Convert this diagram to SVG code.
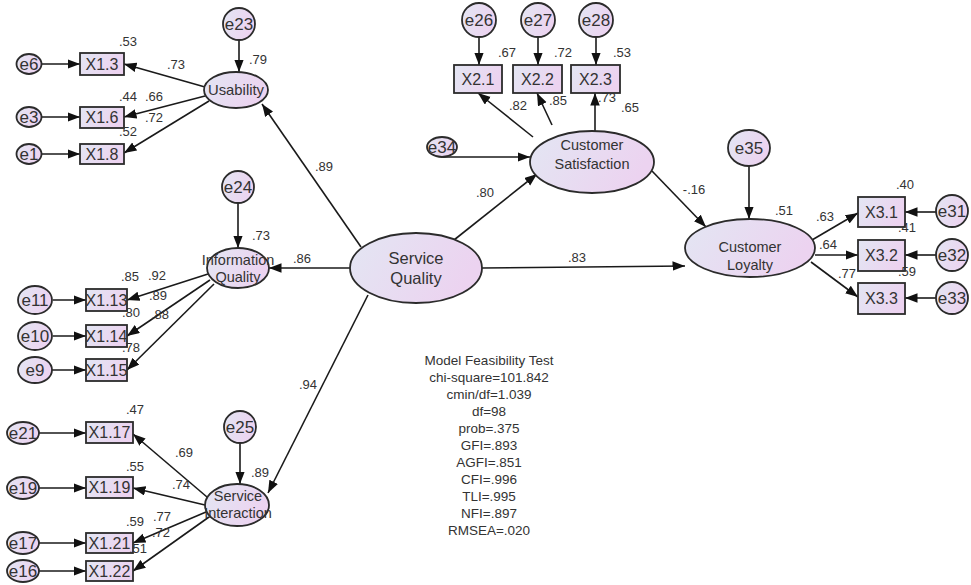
<svg xmlns="http://www.w3.org/2000/svg" width="971" height="585" viewBox="0 0 971 585">
  <defs>
    <linearGradient id="fillGrad" x1="0" y1="0" x2="1" y2="0.3">
      <stop offset="0" stop-color="#e3e6f3"/>
      <stop offset="1" stop-color="#ecd3f0"/>
    </linearGradient>
    <marker id="arrow" markerWidth="13" markerHeight="10" refX="12.5" refY="4.75" orient="auto" markerUnits="userSpaceOnUse">
      <path d="M0,0 L12.5,4.75 L0,9.5 z" fill="#111"/>
    </marker>
    <style>
      .shape { fill: url(#fillGrad); stroke: #2b2b2b; stroke-width: 1.8; }
      .conn line, .conn path { stroke: #1a1a1a; stroke-width: 1.6; fill: none; marker-end: url(#arrow); }
      text { font-family: "Liberation Sans", Arial, sans-serif; fill: #333; text-anchor: middle; }
      .lat { font-size: 14.5px; }
      .big { font-size: 16.5px; }
      .obs { font-size: 16px; }
      .err { font-size: 17px; }
      .coef { font-size: 13px; }
      .fit { font-size: 13.5px; }
    </style>
  </defs>
  <rect width="971" height="585" fill="#fff"/>

  <!-- connectors -->
  <g id="connectors" class="conn">
    <!-- structural paths -->
    <line x1="361" y1="247" x2="262" y2="104"/>
    <line x1="350" y1="268" x2="269" y2="268"/>
    <line x1="368" y1="295" x2="268" y2="493"/>
    <line x1="454" y1="240" x2="537" y2="174"/>
    <line x1="482" y1="268" x2="685" y2="266"/>
    <line x1="652" y1="171" x2="706" y2="227"/>
    <!-- disturbances -->
    <line x1="239" y1="40" x2="239" y2="72"/>
    <line x1="238" y1="203" x2="238" y2="248"/>
    <line x1="240" y1="443" x2="240" y2="484"/>
    <line x1="749" y1="166" x2="749" y2="219"/>
    <path d="M443,157 L530,157"/>
    <!-- Usability indicators -->
    <line x1="205" y1="87" x2="124" y2="64"/>
    <line x1="205" y1="96" x2="124" y2="117"/>
    <line x1="209" y1="101" x2="124" y2="153"/>
    <line x1="42" y1="64" x2="80" y2="64"/>
    <line x1="42" y1="117" x2="80" y2="117"/>
    <line x1="42" y1="154" x2="80" y2="154"/>
    <!-- Information Quality indicators -->
    <line x1="208" y1="274" x2="127" y2="300"/>
    <line x1="210" y1="280" x2="127" y2="336"/>
    <line x1="214" y1="284" x2="127" y2="370"/>
    <line x1="53" y1="300" x2="86" y2="300"/>
    <line x1="53" y1="336" x2="86" y2="336"/>
    <line x1="52" y1="370" x2="86" y2="370"/>
    <!-- Service Interaction indicators -->
    <line x1="207" y1="497" x2="133" y2="434"/>
    <line x1="205" y1="505" x2="133" y2="488"/>
    <line x1="206" y1="512" x2="133" y2="543"/>
    <line x1="209" y1="517" x2="133" y2="571"/>
    <line x1="39" y1="433" x2="86" y2="433"/>
    <line x1="39" y1="488" x2="86" y2="488"/>
    <line x1="39" y1="543" x2="86" y2="543"/>
    <line x1="39" y1="571" x2="86" y2="571"/>
    <!-- Customer Satisfaction indicators -->
    <line x1="533" y1="137" x2="478" y2="93"/>
    <line x1="552" y1="125" x2="537" y2="93"/>
    <line x1="595" y1="131" x2="595" y2="93"/>
    <line x1="479" y1="37" x2="479" y2="65"/>
    <line x1="538" y1="37" x2="538" y2="65"/>
    <line x1="596" y1="37" x2="596" y2="65"/>
    <!-- Customer Loyalty indicators -->
    <line x1="812" y1="240" x2="858" y2="213"/>
    <line x1="815" y1="255" x2="858" y2="255"/>
    <line x1="811" y1="262" x2="858" y2="297"/>
    <line x1="936" y1="212" x2="905" y2="212"/>
    <line x1="936" y1="255" x2="905" y2="255"/>
    <line x1="936" y1="298" x2="905" y2="298"/>
  </g>

  <!-- latent variables -->
  <g id="service-quality">
    <ellipse class="shape" cx="416" cy="268" rx="66" ry="35"/>
    <text class="big" x="416" y="264">Service</text>
    <text class="big" x="416" y="284">Quality</text>
  </g>
  <g id="usability">
    <ellipse class="shape" cx="236" cy="90" rx="32" ry="18"/>
    <text class="lat" x="236" y="95" textLength="56" lengthAdjust="spacingAndGlyphs">Usability</text>
  </g>
  <g id="information-quality">
    <ellipse class="shape" cx="238" cy="268" rx="31" ry="20"/>
    <text class="lat" x="238" y="265">Information</text>
    <text class="lat" x="238" y="282">Quality</text>
  </g>
  <g id="service-interaction">
    <ellipse class="shape" cx="237" cy="505" rx="32" ry="21"/>
    <text class="lat" x="238" y="501">Service</text>
    <text class="lat" x="238" y="518">Interaction</text>
  </g>
  <g id="customer-satisfaction">
    <ellipse class="shape" cx="592" cy="162" rx="62" ry="31"/>
    <text class="lat" x="592" y="150">Customer</text>
    <text class="lat" x="592" y="169">Satisfaction</text>
  </g>
  <g id="customer-loyalty">
    <ellipse class="shape" cx="750" cy="248" rx="65" ry="29"/>
    <text class="lat" x="750" y="252">Customer</text>
    <text class="lat" x="750" y="270">Loyalty</text>
  </g>

  <!-- observed indicators -->
  <g id="x1-3"><rect class="shape" x="80" y="53" width="44" height="22"/><text class="obs" x="102" y="70">X1.3</text></g>
  <g id="x1-6"><rect class="shape" x="80" y="107" width="44" height="21"/><text class="obs" x="102" y="123">X1.6</text></g>
  <g id="x1-8"><rect class="shape" x="80" y="144" width="44" height="20"/><text class="obs" x="102" y="160">X1.8</text></g>
  <g id="x1-13"><rect class="shape" x="86" y="289" width="41" height="22"/><text class="obs" x="106.5" y="306">X1.13</text></g>
  <g id="x1-14"><rect class="shape" x="86" y="325" width="41" height="22"/><text class="obs" x="106.5" y="342">X1.14</text></g>
  <g id="x1-15"><rect class="shape" x="86" y="359" width="41" height="22"/><text class="obs" x="106.5" y="376">X1.15</text></g>
  <g id="x1-17"><rect class="shape" x="86" y="422" width="47" height="21"/><text class="obs" x="109.5" y="438">X1.17</text></g>
  <g id="x1-19"><rect class="shape" x="86" y="477" width="47" height="21"/><text class="obs" x="109.5" y="493">X1.19</text></g>
  <g id="x1-21"><rect class="shape" x="86" y="533" width="47" height="20"/><text class="obs" x="109.5" y="549">X1.21</text></g>
  <g id="x1-22"><rect class="shape" x="86" y="561" width="47" height="20"/><text class="obs" x="109.5" y="577">X1.22</text></g>
  <g id="x2-1"><rect class="shape" x="454" y="65" width="48" height="28"/><text class="obs" x="478" y="85">X2.1</text></g>
  <g id="x2-2"><rect class="shape" x="513" y="65" width="49" height="28"/><text class="obs" x="537.5" y="85">X2.2</text></g>
  <g id="x2-3"><rect class="shape" x="571" y="65" width="49" height="28"/><text class="obs" x="595.5" y="85">X2.3</text></g>
  <g id="x3-1"><rect class="shape" x="858" y="197" width="47" height="30"/><text class="obs" x="881.5" y="218">X3.1</text></g>
  <g id="x3-2"><rect class="shape" x="858" y="240" width="47" height="31"/><text class="obs" x="881.5" y="261">X3.2</text></g>
  <g id="x3-3"><rect class="shape" x="858" y="283" width="47" height="31"/><text class="obs" x="881.5" y="304">X3.3</text></g>

  <!-- error terms -->
  <g id="e23"><circle class="shape" cx="239" cy="24" r="16"/><text class="err" x="239" y="30">e23</text></g>
  <g id="e24"><circle class="shape" cx="238" cy="187" r="16"/><text class="err" x="238" y="193">e24</text></g>
  <g id="e25"><circle class="shape" cx="240" cy="427" r="16"/><text class="err" x="240" y="433">e25</text></g>
  <g id="e6"><ellipse class="shape" cx="29" cy="64" rx="12.5" ry="10"/><text class="err" x="29" y="70">e6</text></g>
  <g id="e3"><ellipse class="shape" cx="29" cy="117" rx="12.5" ry="10"/><text class="err" x="29" y="123">e3</text></g>
  <g id="e1"><ellipse class="shape" cx="29" cy="154" rx="12.5" ry="10"/><text class="err" x="29" y="160">e1</text></g>
  <g id="e11"><ellipse class="shape" cx="35" cy="300" rx="17" ry="14"/><text class="err" x="35" y="306">e11</text></g>
  <g id="e10"><ellipse class="shape" cx="35" cy="336" rx="17" ry="14"/><text class="err" x="35" y="342">e10</text></g>
  <g id="e9"><ellipse class="shape" cx="35" cy="370" rx="17" ry="13"/><text class="err" x="35" y="376">e9</text></g>
  <g id="e21"><ellipse class="shape" cx="23" cy="433" rx="16" ry="11"/><text class="err" x="23" y="439">e21</text></g>
  <g id="e19"><ellipse class="shape" cx="23" cy="488" rx="16" ry="11"/><text class="err" x="23" y="494">e19</text></g>
  <g id="e17"><ellipse class="shape" cx="23" cy="543" rx="16" ry="11"/><text class="err" x="23" y="549">e17</text></g>
  <g id="e16"><ellipse class="shape" cx="23" cy="571" rx="16" ry="11"/><text class="err" x="23" y="577">e16</text></g>
  <g id="e26"><circle class="shape" cx="479" cy="20" r="17"/><text class="err" x="479" y="26">e26</text></g>
  <g id="e27"><circle class="shape" cx="538" cy="20" r="17"/><text class="err" x="538" y="26">e27</text></g>
  <g id="e28"><circle class="shape" cx="596" cy="20" r="17"/><text class="err" x="596" y="26">e28</text></g>
  <g id="e34"><ellipse class="shape" cx="442" cy="147" rx="15" ry="10"/><text class="err" x="442" y="153">e34</text></g>
  <g id="e35"><ellipse class="shape" cx="749" cy="148" rx="21" ry="18"/><text class="err" x="749" y="154">e35</text></g>
  <g id="e31"><circle class="shape" cx="952" cy="211" r="16"/><text class="err" x="952" y="217">e31</text></g>
  <g id="e32"><circle class="shape" cx="952" cy="255" r="16"/><text class="err" x="952" y="261">e32</text></g>
  <g id="e33"><circle class="shape" cx="952" cy="298" r="16"/><text class="err" x="952" y="304">e33</text></g>

  <!-- estimates -->
  <g id="estimates" class="coef">
    <text class="coef" x="128" y="46">.53</text>
    <text class="coef" x="176" y="69">.73</text>
    <text class="coef" x="258" y="64">.79</text>
    <text class="coef" x="128" y="101">.44</text>
    <text class="coef" x="154" y="101">.66</text>
    <text class="coef" x="154" y="122">.72</text>
    <text class="coef" x="128" y="136">.52</text>
    <text class="coef" x="324" y="171">.89</text>
    <text class="coef" x="261" y="240">.73</text>
    <text class="coef" x="302" y="263">.86</text>
    <text class="coef" x="130" y="281">.85</text>
    <text class="coef" x="157" y="280">.92</text>
    <text class="coef" x="158" y="300">.89</text>
    <text class="coef" x="131" y="317">.80</text>
    <text class="coef" x="160" y="319">.88</text>
    <text class="coef" x="131" y="352">.78</text>
    <text class="coef" x="308" y="389">.94</text>
    <text class="coef" x="135" y="414">.47</text>
    <text class="coef" x="184" y="457">.69</text>
    <text class="coef" x="135" y="471">.55</text>
    <text class="coef" x="181" y="489">.74</text>
    <text class="coef" x="260" y="477">.89</text>
    <text class="coef" x="135" y="526">.59</text>
    <text class="coef" x="162" y="521">.77</text>
    <text class="coef" x="161" y="537">.72</text>
    <text class="coef" x="138" y="553">.51</text>
    <text class="coef" x="507" y="57">.67</text>
    <text class="coef" x="563" y="57">.72</text>
    <text class="coef" x="622" y="57">.53</text>
    <text class="coef" x="518" y="110">.82</text>
    <text class="coef" x="558" y="105">.85</text>
    <text class="coef" x="607" y="102">.73</text>
    <text class="coef" x="630" y="112">.65</text>
    <text class="coef" x="485" y="197">.80</text>
    <text class="coef" x="577" y="262">.83</text>
    <text class="coef" x="694" y="194">-.16</text>
    <text class="coef" x="784" y="215">.51</text>
    <text class="coef" x="905" y="189">.40</text>
    <text class="coef" x="825" y="221">.63</text>
    <text class="coef" x="907" y="232">.41</text>
    <text class="coef" x="828" y="249">.64</text>
    <text class="coef" x="847" y="278">.77</text>
    <text class="coef" x="907" y="276">.59</text>
  </g>

  <!-- fit statistics -->
  <g id="fit-summary" class="fit">
    <text class="fit" x="489" y="365">Model Feasibility Test</text>
    <text class="fit" x="489" y="382">chi-square=101.842</text>
    <text class="fit" x="489" y="399">cmin/df=1.039</text>
    <text class="fit" x="489" y="416">df=98</text>
    <text class="fit" x="489" y="433">prob=.375</text>
    <text class="fit" x="489" y="450">GFI=.893</text>
    <text class="fit" x="489" y="467">AGFI=.851</text>
    <text class="fit" x="489" y="484">CFI=.996</text>
    <text class="fit" x="489" y="501">TLI=.995</text>
    <text class="fit" x="489" y="518">NFI=.897</text>
    <text class="fit" x="489" y="535">RMSEA=.020</text>
  </g>
</svg>
